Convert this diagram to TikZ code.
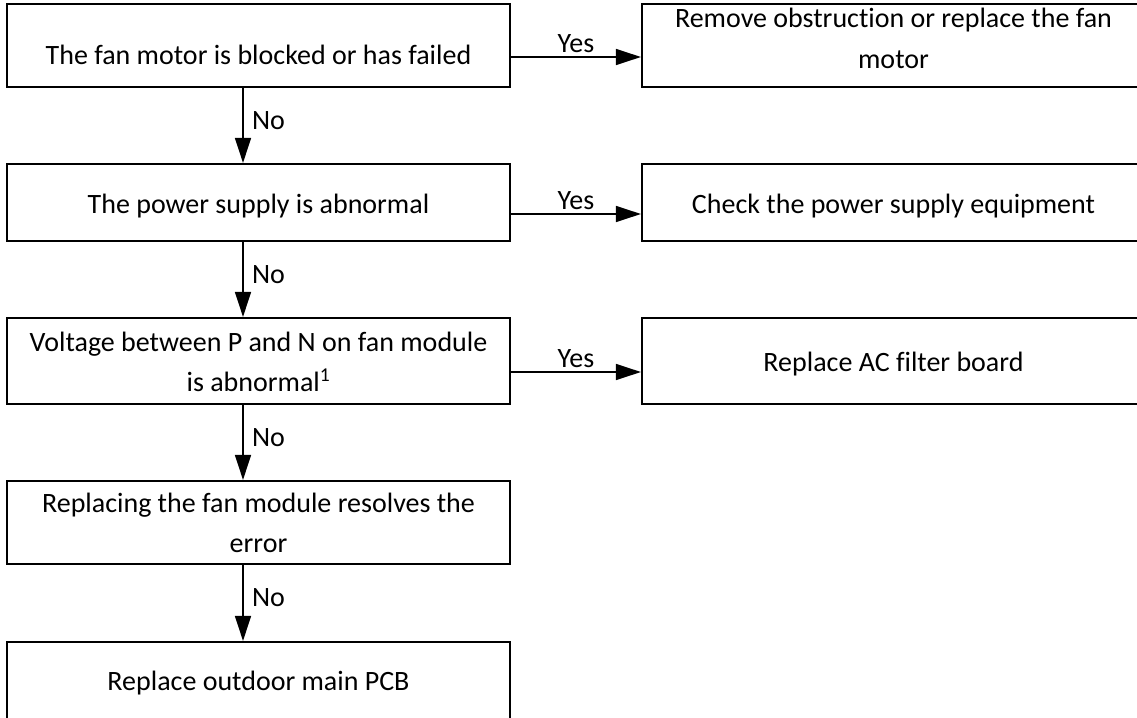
\documentclass[tikz,border=0pt]{standalone}
\usepackage{fontspec}
\setmainfont{Carlito}[Ligatures=CommonOff]
\usetikzlibrary{arrows.meta}
\tikzset{
  every picture/.style={line width=1.6pt},
  box/.style={draw, line width=2.2pt, minimum width=503pt, minimum height=#1, inner sep=0pt},
  box/.default=83pt,
  txt/.style={anchor=base, align=center, inner sep=0pt, font=\fontsize{28}{40}\selectfont},
  lbl/.style={font=\fontsize{28}{34}\selectfont},
  arrow/.style={-{Triangle[length=25pt, width=16pt]}, line width=1.6pt},
}
\begin{document}
\begin{tikzpicture}[x=1pt, y=-1pt]
  \useasboundingbox (0,0) rectangle (1137,717);
  % left column
  \node[box] (fan) at (258.5,45.5) {};
  \node[box=77pt] (power) at (258.5,202.5) {};
  \node[box=86pt] (volt) at (258.5,361) {};
  \node[box] (module) at (258.5,522.5) {};
  \node[box] (pcb) at (258.5,683.5) {};
  % right column
  \node[box] (remove) at (893.5,45.5) {};
  \node[box=77pt] (check) at (893.5,202.5) {};
  \node[box=86pt] (filter) at (893.5,361) {};
  % texts (base = last line)
  \node[txt] (fan-t) at (258.5,65) {The fan motor is blocked or has failed};
  \node[txt] (power-t) at (258.5,213) {The power supply is abnormal};
  \node[txt] (volt-t) at (258.5,391) {Voltage between P and N on fan module\\is abnormal\textsuperscript{1}};
  \node[txt] (module-t) at (258.5,552) {Replacing the fan module resolves the\\error};
  \node[txt] (pcb-t) at (258.5,690) {Replace outdoor main PCB};
  \node[txt] (remove-t) at (893.5,68) {Remove obstruction or replace the fan\\motor};
  \node[txt] (check-t) at (893.5,213) {Check the power supply equipment};
  \node[txt] (filter-t) at (893.5,371) {Replace AC filter board};
  % connectors
  \coordinate (colx) at (243,0);
  \coordinate (yes1) at (0,57);
  \coordinate (yes2) at (0,214);
  \coordinate (yes3) at (0,372);
  \draw[arrow] (fan.south -| colx) -- node[lbl, pos=0.43, right=5pt] (no1) {No} (power.north -| colx);
  \draw[arrow] (power.south -| colx) -- node[lbl, pos=0.43, right=5pt] (no2) {No} (volt.north -| colx);
  \draw[arrow] (volt.south -| colx) -- node[lbl, pos=0.43, right=5pt] (no3) {No} (module.north -| colx);
  \draw[arrow] (module.south -| colx) -- node[lbl, pos=0.43, right=5pt] (no4) {No} (pcb.north -| colx);
  \draw[arrow] (fan.east |- yes1) -- node[lbl, above] (y1) {Yes} (remove.west |- yes1);
  \draw[arrow] (power.east |- yes2) -- node[lbl, above] (y2) {Yes} (check.west |- yes2);
  \draw[arrow] (volt.east |- yes3) -- node[lbl, above] (y3) {Yes} (filter.west |- yes3);
\end{tikzpicture}
\end{document}
